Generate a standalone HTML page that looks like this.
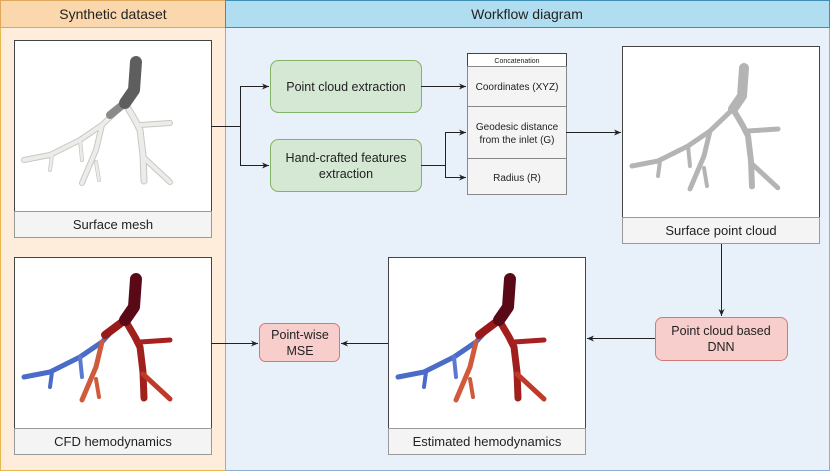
<!DOCTYPE html>
<html><head><meta charset="utf-8"><style>
html,body{margin:0;padding:0;background:#fff}
svg{display:block}
text{font-family:"Liberation Sans",sans-serif;fill:#222}
</style></head><body>
<svg width="830" height="471" viewBox="0 0 830 471" xmlns="http://www.w3.org/2000/svg">
<defs>
<marker id="a" markerWidth="8" markerHeight="8" refX="7" refY="4" orient="auto" markerUnits="userSpaceOnUse"><path d="M0,1 L7,4 L0,7 L2,4 Z" fill="#222"/></marker>
</defs>
<!-- panels -->
<rect x="0.5" y="27.5" width="225" height="443" fill="#ffeddc" stroke="#e8b84f"/>
<rect x="0.5" y="0.5" width="225" height="27" fill="#fad7ac" stroke="#e0a85a"/>
<rect x="225.5" y="27.5" width="604" height="443" fill="#e8f0fa" stroke="#8fb0d6"/>
<rect x="225.5" y="0.5" width="604" height="27" fill="#b1ddf0" stroke="#3d8fb5"/>
<text x="113" y="19" font-size="14" text-anchor="middle">Synthetic dataset</text>
<text x="527" y="19" font-size="14" text-anchor="middle">Workflow diagram</text>

<!-- image boxes -->
<g stroke="#444" stroke-width="1">
<rect x="14.5" y="40.5" width="197" height="171" fill="#fff"/>
<rect x="14.5" y="257.5" width="197" height="171" fill="#fff"/>
<rect x="388.5" y="257.5" width="197" height="171" fill="#fff"/>
<rect x="622.5" y="46.5" width="197" height="171" fill="#fff"/>
</g>
<g stroke="#999" fill="#f4f4f4">
<rect x="14.5" y="211.5" width="197" height="26"/>
<rect x="14.5" y="428.5" width="197" height="26"/>
<rect x="388.5" y="428.5" width="197" height="26"/>
<rect x="622.5" y="217.5" width="197" height="26"/>
</g>
<g font-size="13" text-anchor="middle" fill="#333">
<text x="113" y="229">Surface mesh</text>
<text x="113" y="446">CFD hemodynamics</text>
<text x="487" y="446">Estimated hemodynamics</text>
<text x="721" y="235">Surface point cloud</text>
</g>

<!-- trees -->
<g fill="none" stroke-linecap="round" stroke-linejoin="round">
<!-- surface mesh -->
<g stroke="#c8c8c2">
<path d="M125,103 L102,125 L80,140 L50,155 L24,160" stroke-width="6"/>
<path d="M102,125 L96,150 L82,183" stroke-width="6"/>
<path d="M96,162 L99,180" stroke-width="4"/>
<path d="M80,140 L82,160" stroke-width="4"/>
<path d="M52,155 L50,170" stroke-width="4"/>
<path d="M125,103 L135,120 L140,130 L143,155 L144,181" stroke-width="7"/>
<path d="M140,125 L170,123" stroke-width="6"/>
<path d="M143,157 L170,182" stroke-width="6"/>
</g>
<g stroke="#ececea">
<path d="M125,103 L102,125 L80,140 L50,155 L24,160" stroke-width="4"/>
<path d="M102,125 L96,150 L82,183" stroke-width="4"/>
<path d="M96,162 L99,180" stroke-width="2.5"/>
<path d="M80,140 L82,160" stroke-width="2.5"/>
<path d="M52,155 L50,170" stroke-width="2.5"/>
<path d="M125,103 L135,120 L140,130 L143,155 L144,181" stroke-width="5"/>
<path d="M140,125 L170,123" stroke-width="4"/>
<path d="M143,157 L170,182" stroke-width="4"/>
</g>
<path d="M125,103 L110,115" stroke="#8a8a8a" stroke-width="8"/>
<path d="M136,62 L134,90 L125,103" stroke="#5e5e5e" stroke-width="12"/>
<!-- CFD -->
<g transform="translate(0,217)">
<path d="M112,114 L102,125 L80,140 L50,155 L24,160" stroke="#4a6cc8" stroke-width="5"/>
<path d="M52,155 L50,170" stroke="#4a6cc8" stroke-width="4"/>
<path d="M80,140 L82,160" stroke="#5a7ad0" stroke-width="4"/>
<path d="M102,125 L96,150 L82,183" stroke="#d05a3c" stroke-width="5"/>
<path d="M96,162 L99,180" stroke="#d05a3c" stroke-width="4"/>
<path d="M125,103 L135,120 L140,130 L143,155 L144,181" stroke="#a0201e" stroke-width="7"/>
<path d="M140,125 L170,123" stroke="#a82020" stroke-width="5"/>
<path d="M143,157 L170,182" stroke="#c03a2a" stroke-width="5"/>
<path d="M125,103 L105,118" stroke="#9a1a1a" stroke-width="8"/>
<path d="M136,62 L134,90 L125,103" stroke="#5a0a16" stroke-width="12"/>
</g>
<!-- Estimated -->
<g transform="translate(374,217)">
<path d="M112,114 L102,125 L80,140 L50,155 L24,160" stroke="#4a6cc8" stroke-width="5"/>
<path d="M52,155 L50,170" stroke="#4a6cc8" stroke-width="4"/>
<path d="M80,140 L82,160" stroke="#5a7ad0" stroke-width="4"/>
<path d="M102,125 L96,150 L82,183" stroke="#d05a3c" stroke-width="5"/>
<path d="M96,162 L99,180" stroke="#d05a3c" stroke-width="4"/>
<path d="M125,103 L135,120 L140,130 L143,155 L144,181" stroke="#a0201e" stroke-width="7"/>
<path d="M140,125 L170,123" stroke="#a82020" stroke-width="5"/>
<path d="M143,157 L170,182" stroke="#c03a2a" stroke-width="5"/>
<path d="M125,103 L105,118" stroke="#9a1a1a" stroke-width="8"/>
<path d="M136,62 L134,90 L125,103" stroke="#5a0a16" stroke-width="12"/>
</g>
<!-- point cloud -->
<g transform="translate(608,6)" stroke="#b4b4b4" stroke-dasharray="1.5 1">
<path d="M125,103 L102,125 L80,140 L50,155 L24,160" stroke-width="5"/>
<path d="M102,125 L96,150 L82,183" stroke-width="5"/>
<path d="M96,162 L99,180" stroke-width="4"/>
<path d="M80,140 L82,160" stroke-width="4"/>
<path d="M52,155 L50,170" stroke-width="4"/>
<path d="M125,103 L135,120 L140,130 L143,155 L144,181" stroke-width="6"/>
<path d="M140,125 L170,123" stroke-width="5"/>
<path d="M143,157 L170,182" stroke-width="5"/>
<path d="M136,62 L134,90 L125,103" stroke-width="10"/>
</g>
</g>

<!-- green boxes -->
<rect x="270.5" y="60.5" width="151" height="52" rx="8" fill="#d5e8d4" stroke="#82b366"/>
<rect x="270.5" y="139.5" width="151" height="52" rx="8" fill="#d5e8d4" stroke="#82b366"/>
<text x="346" y="91" font-size="12.5" text-anchor="middle">Point cloud extraction</text>
<text x="346" y="162" font-size="12.5" text-anchor="middle">Hand-crafted features</text>
<text x="346" y="178" font-size="12.5" text-anchor="middle">extraction</text>

<!-- concatenation -->
<rect x="467.5" y="53.5" width="99" height="13" fill="#fff" stroke="#444"/>
<rect x="467.5" y="66.5" width="99" height="40" fill="#f4f4f4" stroke="#888"/>
<rect x="467.5" y="106.5" width="99" height="52" fill="#f4f4f4" stroke="#888"/>
<rect x="467.5" y="158.5" width="99" height="36" fill="#f4f4f4" stroke="#888"/>
<text x="517" y="63" font-size="7" text-anchor="middle">Concatenation</text>
<g font-size="10" text-anchor="middle" fill="#333">
<text x="517" y="90">Coordinates (XYZ)</text>
<text x="517" y="130">Geodesic distance</text>
<text x="517" y="143">from the inlet (G)</text>
<text x="517" y="181">Radius (R)</text>
</g>

<!-- pink boxes -->
<rect x="259.5" y="323.5" width="80" height="38" rx="6" fill="#f8cecc" stroke="#d07a78"/>
<text x="300" y="339" font-size="12.5" text-anchor="middle">Point-wise</text>
<text x="300" y="355" font-size="12.5" text-anchor="middle">MSE</text>
<rect x="655.5" y="317.5" width="132" height="43" rx="7" fill="#f8cecc" stroke="#d07a78"/>
<text x="721" y="335" font-size="12.5" text-anchor="middle">Point cloud based</text>
<text x="721" y="351" font-size="12.5" text-anchor="middle">DNN</text>

<!-- connectors -->
<g stroke="#222" stroke-width="1" fill="none">
<path d="M211,126.5 H240.5 V86.5 H269" marker-end="url(#a)"/>
<path d="M240.5,126.5 V165.5 H269" marker-end="url(#a)"/>
<path d="M421,86.5 H466" marker-end="url(#a)"/>
<path d="M421,165.5 H445.5 V132.5 H466"  marker-end="url(#a)"/>
<path d="M445.5,165.5 V177.5 H466" marker-end="url(#a)"/>
<path d="M566,132.5 H621" marker-end="url(#a)"/>
<path d="M721.5,244 V316" marker-end="url(#a)"/>
<path d="M655,338.5 H587" marker-end="url(#a)"/>
<path d="M211,343.5 H258" marker-end="url(#a)"/>
<path d="M388,343.5 H341" marker-end="url(#a)"/>
</g>
</svg>
</body></html>
